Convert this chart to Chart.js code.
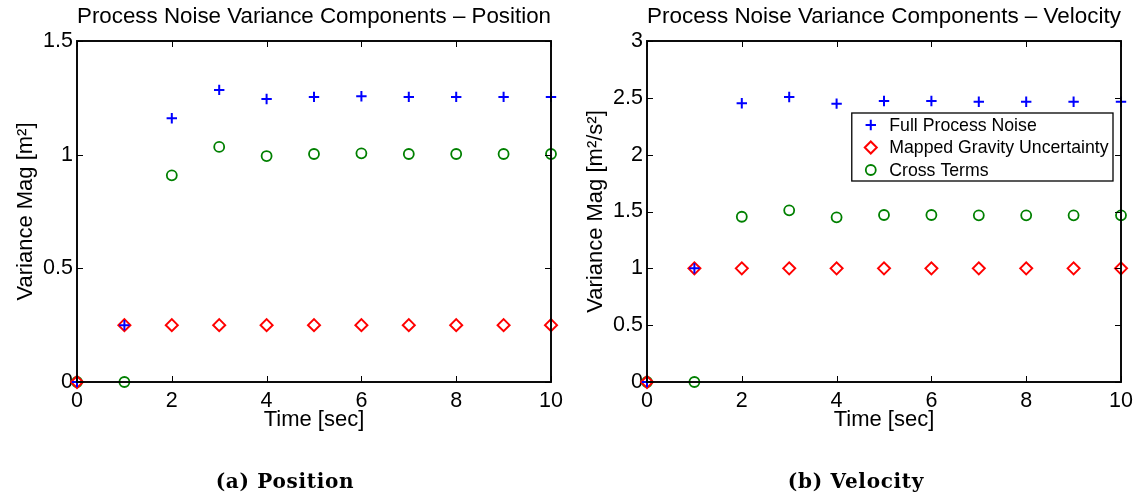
<!DOCTYPE html>
<html>
<head>
<meta charset="utf-8">
<script src="https://cdn.jsdelivr.net/npm/chart.js@4.4.1/dist/chart.umd.min.js"></script>
<style>
    html, body { margin: 0; padding: 0; background: #fff; }
    #page { position: relative; width: 1140px; height: 499px; overflow: hidden; }
    .pane { position: absolute; top: 0; width: 570px; height: 499px; }
    .caption { position: absolute; top: 469px; width: 300px; height: 24px; line-height: 24px;
        text-align: center; font-family: "DejaVu Serif", serif; font-weight: bold; font-size: 20px;
        letter-spacing: 0.7px; color: #000; }
</style>
</head>
<body>
<div id="page">
    <div class="pane" style="left:0"><canvas id="posChart" width="570" height="499"></canvas></div>
    <div class="pane" style="left:570px"><canvas id="velChart" width="570" height="499"></canvas></div>
    <div class="caption" style="left:135px">(a) Position</div>
    <div class="caption" style="left:706px">(b) Velocity</div>
</div>
<script>
// time samples
var timeSec = [0, 1, 2, 3, 4, 5, 6, 7, 8, 9, 10];

// position components [m^2]
var posFull    = [0, 0.25, 1.160, 1.285, 1.245, 1.254, 1.257, 1.254, 1.254, 1.254, 1.254];
var posGravity = [0, 0.25, 0.25, 0.25, 0.25, 0.25, 0.25, 0.25, 0.25, 0.25, 0.25];
var posCross   = [0, 0, 0.909, 1.034, 0.994, 1.003, 1.006, 1.003, 1.003, 1.003, 1.003];

// velocity components [m^2/s^2]
var velFull    = [0, 1.0, 2.452, 2.507, 2.449, 2.472, 2.472, 2.466, 2.466, 2.466, 2.466];
var velGravity = [0, 1, 1, 1, 1, 1, 1, 1, 1, 1, 1];
var velCross   = [0, 0, 1.454, 1.510, 1.449, 1.469, 1.469, 1.466, 1.466, 1.466, 1.466];

var seriesNames = ['Full Process Noise', 'Mapped Gravity Uncertainty', 'Cross Terms'];
var xTicks = [0, 2, 4, 6, 8, 10];

var SANS = '"Liberation Sans", Arial, Helvetica, sans-serif';

function toPoints(values) {
    return values.map(function (v, i) { return { x: timeSec[i], y: v }; });
}

// MATLAB style box with inward ticks, drawn over the markers
var framePlugin = {
    id: 'frame',
    afterDatasetsDraw: function (chart) {
        var ctx = chart.ctx, a = chart.chartArea, xs = chart.scales.x, ys = chart.scales.y;
        ctx.save();
        ctx.strokeStyle = '#000';
        ctx.lineWidth = 1;
        ctx.beginPath();
        xs.ticks.forEach(function (t) {
            var px = Math.round(xs.getPixelForValue(t.value)) + 0.5;
            ctx.moveTo(px, a.bottom); ctx.lineTo(px, a.bottom - 6);
            ctx.moveTo(px, a.top); ctx.lineTo(px, a.top + 6);
        });
        ys.ticks.forEach(function (t) {
            var py = Math.round(ys.getPixelForValue(t.value)) + 0.5;
            ctx.moveTo(a.left, py); ctx.lineTo(a.left + 6, py);
            ctx.moveTo(a.right, py); ctx.lineTo(a.right - 6, py);
        });
        ctx.stroke();
        ctx.lineWidth = 1.9;
        ctx.strokeRect(a.left, a.top, a.right - a.left, a.bottom - a.top);
        ctx.restore();
    }
};

// legend box inside the plot area, top right
var boxLegendPlugin = {
    id: 'boxLegend',
    afterDraw: function (chart, args, opts) {
        if (!opts.display) return;
        var ctx = chart.ctx, a = chart.chartArea;
        var sets = chart.data.datasets;
        ctx.save();
        ctx.font = '17.7px ' + SANS;
        var maxW = 0;
        sets.forEach(function (ds) { maxW = Math.max(maxW, ctx.measureText(ds.label).width); });
        var w = maxW + 42, h = 68;
        var right = a.right - 8, top = a.top + 72, left = right - w;
        ctx.fillStyle = '#fff';
        ctx.fillRect(left, top, w, h);
        ctx.strokeStyle = '#000';
        ctx.lineWidth = 1.3;
        ctx.strokeRect(left, top, w, h);
        sets.forEach(function (ds, i) {
            var cy = top + 12 + i * 22.5;
            ctx.strokeStyle = ds.borderColor;
            ctx.fillStyle = 'rgba(0,0,0,0)';
            ctx.lineWidth = ds.pointBorderWidth;
            Chart.helpers.drawPoint(ctx, { pointStyle: ds.pointStyle, radius: ds.pointRadius, rotation: 0, borderWidth: ds.pointBorderWidth }, left + 19, cy);
            ctx.fillStyle = '#000';
            ctx.textBaseline = 'middle';
            ctx.textAlign = 'left';
            ctx.fillText(ds.label, left + 37.5, cy + 1);
        });
        ctx.restore();
    }
};

function makeChart(canvasId, titleText, yLabel, yMax, full, gravity, cross, showLegend) {
    var canvas = document.getElementById(canvasId);
    return new Chart(canvas, {
        type: 'scatter',
        data: {
            datasets: [
                { label: seriesNames[0], data: toPoints(full), pointStyle: 'cross', pointRadius: 5.2,
                  pointBorderWidth: 2, borderColor: '#0000ff', backgroundColor: 'rgba(0,0,0,0)', showLine: false, clip: false },
                { label: seriesNames[1], data: toPoints(gravity), pointStyle: 'rectRot', pointRadius: 6,
                  pointBorderWidth: 2, borderColor: '#ff0000', backgroundColor: 'rgba(0,0,0,0)', showLine: false, clip: false },
                { label: seriesNames[2], data: toPoints(cross), pointStyle: 'circle', pointRadius: 5,
                  pointBorderWidth: 1.8, borderColor: '#008000', backgroundColor: 'rgba(0,0,0,0)', showLine: false, clip: false }
            ]
        },
        options: {
            responsive: false,
            animation: false,
            devicePixelRatio: 1,
            layout: { padding: { left: 0, right: 19, top: 0, bottom: 0 } },
            plugins: {
                legend: { display: false },
                tooltip: { enabled: false },
                title: {
                    display: true, text: titleText, fullSize: false, color: '#000',
                    font: { family: SANS, size: 22.5, weight: 'normal', lineHeight: 1.2 },
                    padding: { top: 3, bottom: 11 }
                },
                boxLegend: { display: showLegend }
            },
            scales: {
                x: {
                    type: 'linear', min: 0, max: 10,
                    grid: { display: false, drawTicks: false },
                    border: { display: false },
                    afterBuildTicks: function (scale) { scale.ticks = xTicks.map(function (v) { return { value: v }; }); },
                    afterFit: function (scale) { scale.height = 117; },
                    ticks: { color: '#000', padding: 6, maxRotation: 0, font: { family: SANS, size: 21.5 },
                             callback: function (v) { return String(v); } },
                    title: { display: true, text: 'Time [sec]', color: '#000',
                             font: { family: SANS, size: 22, lineHeight: 1.2 }, padding: { top: 0, bottom: 66 } }
                },
                y: {
                    type: 'linear', min: 0, max: yMax,
                    grid: { display: false, drawTicks: false },
                    border: { display: false },
                    afterFit: function (scale) { scale.width = 77; },
                    ticks: { color: '#000', padding: 4, stepSize: 0.5, font: { family: SANS, size: 21.5 },
                             callback: function (v) { return String(Math.round(v * 10) / 10); } },
                    title: { display: true, text: yLabel, color: '#000',
                             font: { family: SANS, size: 22, lineHeight: 1.2 }, padding: { top: 13, bottom: 0 } }
                }
            }
        },
        plugins: [framePlugin, boxLegendPlugin]
    });
}

makeChart('posChart', 'Process Noise Variance Components \u2013 Position', 'Variance Mag [m\u00b2]', 1.5,
    posFull, posGravity, posCross, false);
makeChart('velChart', 'Process Noise Variance Components \u2013 Velocity', 'Variance Mag [m\u00b2/s\u00b2]', 3,
    velFull, velGravity, velCross, true);
</script>
</body>
</html>
